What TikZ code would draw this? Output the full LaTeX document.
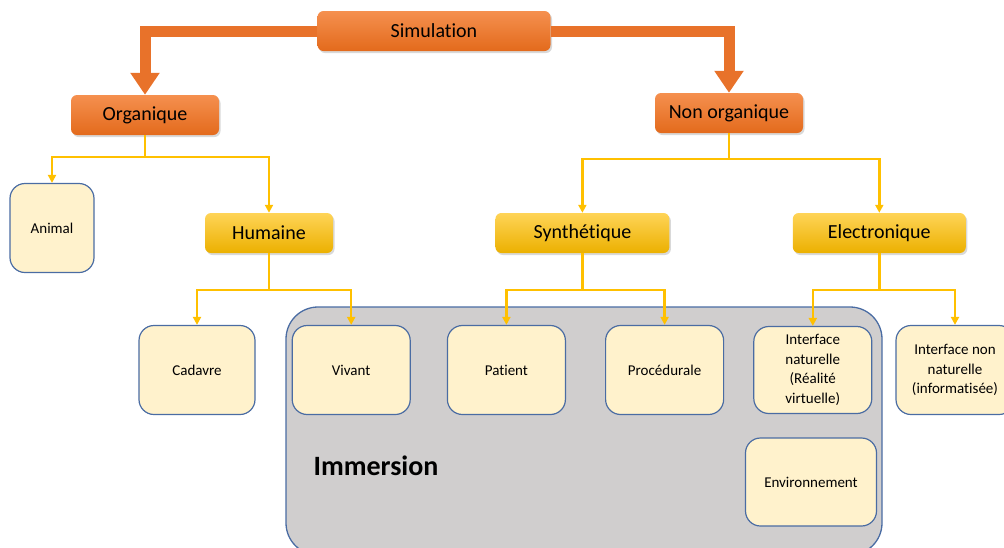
\documentclass[tikz,border=0pt]{standalone}
\usepackage{fontspec}
\setmainfont{Carlito}[Ligatures=NoCommon]
\usepackage{tikz}
\usetikzlibrary{arrows.meta,shapes,shadows}
\usetikzlibrary{positioning}
\definecolor{orangetop}{HTML}{F5904F}
\definecolor{orangebot}{HTML}{E36A1C}
\definecolor{orangeline}{HTML}{E8722A}
\definecolor{yellowtop}{HTML}{FFD457}
\definecolor{yellowbot}{HTML}{EBB000}
\definecolor{yellowline}{HTML}{FFC000}
\definecolor{leaffill}{HTML}{FFF2CC}
\definecolor{leafline}{HTML}{4A6CA3}
\definecolor{immfill}{HTML}{D0CECE}
\tikzset{top node/.style={rectangle,rounded corners=6pt,draw=none,top color=orangetop,bottom color=orangebot,
		drop shadow={opacity=0.3,shadow xshift=1.5pt,shadow yshift=-2pt},
		minimum width=148pt,minimum height=40pt,inner sep=0pt,font=\fontsize{20pt}{24pt}\selectfont},
	mid node/.style={top node,top color=yellowtop,bottom color=yellowbot},
	leaf node/.style={rectangle,rounded corners=15pt,fill=leaffill,draw=leafline,line width=1.2pt,
		minimum width=118pt,minimum height=89pt,inner sep=2pt,align=center,font=\fontsize{15pt}{19.5pt}\selectfont},
	imm box/.style={rectangle,rounded corners=32pt,fill=immfill,draw=leafline,line width=1.3pt,
		minimum width=596pt,minimum height=248pt,inner sep=0pt},
	big arrow/.style={draw=orangeline,line width=11pt,-{Triangle[width=28pt,length=22pt]}},
	small arrow/.style={draw=yellowline,line width=2.5pt,-{Triangle[width=8pt,length=8pt]}},
}

\begin{document}
\begin{tikzpicture}[x=1pt,y=-1pt]
		\useasboundingbox (0,0) rectangle (1004,547);
		%% Immersion area
		\node[imm box] (imm) at (584,431) {};
		\node[font=\bfseries\fontsize{28pt}{32pt}\selectfont] (immlabel) at (376,466) {Immersion};
		%% top levels
		\node[top node,minimum width=233pt] (sim) at (434,31) {Simulation};
		\node[top node] (org) at (145,115) {Organique};
		\node[top node] (nonorg) at (729,113) {Non organique};
		
		\node[mid node,minimum width=128pt] (hum) at (269,233) {Humaine};
		\node[mid node,minimum width=174pt] (synth) [right = 162pt of hum] {Synthétique};
		\node[mid node,minimum width=173pt] (elec) [right = 123pt of synth] {Electronique};
		%% leaves
		\node[leaf node,minimum width=84pt] (animal) at (52,228) {Animal};
		\node[leaf node,minimum width=116pt] (cadavre) at (197,370) {Cadavre};
		\node[leaf node] (vivant) [right = 36pt of cadavre] {Vivant};
		\node[leaf node] (patient) [right = 36pt of vivant] {Patient};
		\node[leaf node] (proc) [right = 39pt of patient] {Procédurale};
		\node[leaf node,minimum height=87pt] (intnat) [right = 29pt of proc] {Interface\\naturelle\\(Réalité\\virtuelle)};
		\node[leaf node] (intnon) [right = 23pt of intnat] {Interface non\\naturelle\\(informatisée)};
		\node[leaf node,minimum width=131pt,minimum height=88pt] (env) at (811,482) {Environnement};
		
		\path[big arrow] (sim.west) -| (org.north);
		\path[big arrow] (sim.east) -| (nonorg.north);
		%%
		\path[small arrow]
		(org.south) -- ++(0,22) -| (animal.north);
		\path[small arrow]
		(org.south) -- ++(0,22) -| (hum.north);
		\path[small arrow]
		(nonorg.south) -- ++(0,26) -| (synth.north);
		\path[small arrow]
		(nonorg.south) -- ++(0,26) -| (elec.north);
		\path[small arrow]
		(hum.south) -- ++(0,37) -| (cadavre.north);
		\path[small arrow]
		(hum.south) -- ++(0,37) -| (vivant.north);
		\path[small arrow]
		(synth.south) -- ++(0,37) -| (patient.north);
		\path[small arrow]
		(synth.south) -- ++(0,37) -| (proc.north);
		\path[small arrow]
		(elec.south) -- ++(0,37) -| (intnat.north);
		\path[small arrow]
		(elec.south) -- ++(0,37) -| (intnon.north);
	\end{tikzpicture}
\end{document}
